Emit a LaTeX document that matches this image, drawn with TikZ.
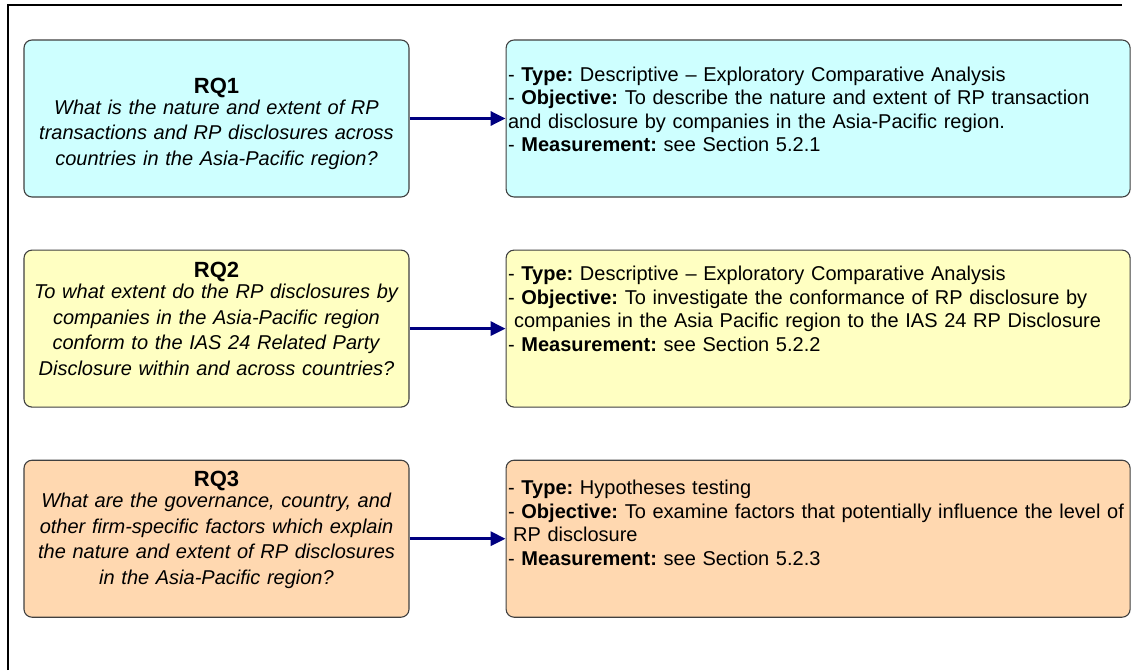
\documentclass[tikz,border=0pt]{standalone}
\usepackage{fontspec}
\setmainfont{Liberation Sans}
\usetikzlibrary{arrows.meta, positioning}
\frenchspacing

\definecolor{rqcyan}{RGB}{206,255,255}
\definecolor{rqyellow}{RGB}{255,255,194}
\definecolor{rqpeach}{RGB}{255,216,176}
\definecolor{arrownavy}{RGB}{0,0,128}

\begin{document}
\begin{tikzpicture}[
    x=1pt, y=-1pt,
    question/.style={
        draw=black!75,
        line width=1.1pt,
        rounded corners=8pt,
        align=center,
        text width=377pt,
        minimum width=385pt,
        minimum height=157pt,
        inner sep=4pt,
        font=\fontsize{20}{25.5}\selectfont
    },
    answer/.style={
        draw=black!75,
        line width=1.1pt,
        rounded corners=8pt,
        align=left,
        text width=620pt,
        minimum width=624pt,
        minimum height=157pt,
        inner xsep=2pt,
        font=\fontsize{20}{23.5}\selectfont
    },
    % pushes the text block up inside its box
    lift/.style={execute at end node={\endgraf\vspace*{#1}}},
    arrow/.style={-{Triangle[length=15pt,width=14pt]}, line width=3.2pt, arrownavy},
    node distance=52pt and 96pt
]

\useasboundingbox (0,0) rectangle (1131,670);

% ------------------------
% Outer frame (top and left edge)
% ------------------------
\draw[line width=2pt] (8,670) -- (8,5) -- (1122,5);

% ------------------------
% Research questions
% ------------------------
\node (rq1) [question, fill=rqcyan, lift=-10pt] at (216.5,118.5) {
\textbf{\fontsize{22}{25.5}\selectfont RQ1}\\[-4.5pt]
\textit{What is the nature and extent of RP}\\
\textit{transactions and RP disclosures across}\\
\textit{countries in the Asia-Pacific region?}
};

\node (rq2) [question, fill=rqyellow, lift=19pt, below=of rq1] {
\textbf{\fontsize{22}{25.5}\selectfont RQ2}\\[-4.5pt]
\textit{To what extent do the RP disclosures by}\\
\textit{companies in the Asia-Pacific region}\\
\textit{conform to the IAS 24 Related Party}\\
\textit{Disclosure within and across countries?}
};

\node (rq3) [question, fill=rqpeach, lift=18pt, below=of rq2] {
\textbf{\fontsize{22}{25.5}\selectfont RQ3}\\[-4.5pt]
\textit{What are the governance, country, and}\\
\textit{other firm-specific factors which explain}\\
\textit{the nature and extent of RP disclosures}\\
\textit{in the Asia-Pacific region?}
};

% ------------------------
% Research design per question
% ------------------------
\node (ans1) [answer, fill=rqcyan, lift=18pt, right=of rq1] {
- \textbf{Type:} Descriptive -- Exploratory Comparative Analysis\\
- \textbf{Objective:} To describe the nature and extent of RP transaction\\
and disclosure by companies in the Asia-Pacific region.\\
- \textbf{Measurement:} see Section 5.2.1
};

\node (ans2) [answer, fill=rqyellow, lift=40pt, right=of rq2] {
- \textbf{Type:} Descriptive -- Exploratory Comparative Analysis\\
- \textbf{Objective:} To investigate the conformance of RP disclosure by\\
\hspace*{6pt}companies in the Asia Pacific region to the IAS 24 RP Disclosure\\
- \textbf{Measurement:} see Section 5.2.2
};

\node (ans3) [answer, fill=rqpeach, lift=32pt, right=of rq3] {
- \textbf{Type:} Hypotheses testing\\
- \textbf{Objective:} To examine factors that potentially influence the level of\\
\hspace*{5pt}RP disclosure\\
- \textbf{Measurement:} see Section 5.2.3
};

% ------------------------
% Arrows
% ------------------------
\draw[arrow] (rq1) -- (ans1);
\draw[arrow] (rq2) -- (ans2);
\draw[arrow] (rq3) -- (ans3);

\end{tikzpicture}
\end{document}
